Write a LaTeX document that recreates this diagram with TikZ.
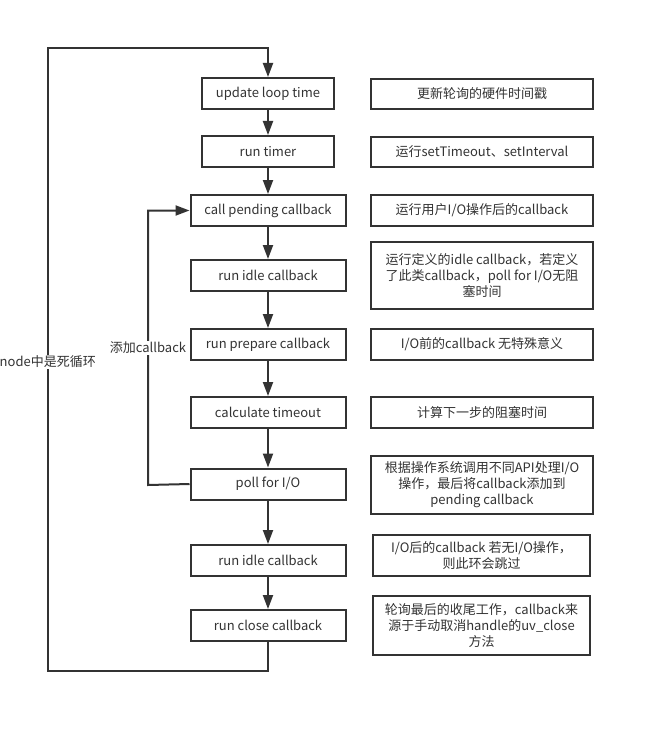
\documentclass[tikz,border=0pt]{standalone}
\usepackage{fontspec}
\setmainfont{Noto Sans CJK SC}
\usetikzlibrary{arrows.meta}
\definecolor{ink}{HTML}{333333}
\begin{document}
\begin{tikzpicture}[x=1pt,y=-1pt,
  lw/.style={line width=2pt, draw=ink},
  stepbox/.style={lw, rectangle, inner sep=0pt, text=ink, font=\fontsize{13}{16}\selectfont, align=center},
  lbox/.style={stepbox, minimum height=31pt},
  rbox/.style={stepbox, minimum width=222pt},
  flow/.style={lw, -{Triangle[length=14pt,width=10pt]}},
  lbl/.style={text=ink, fill=white, inner sep=1pt, font=\fontsize{13}{16}\selectfont}]
\useasboundingbox[fill=white] (0,0) rectangle (655,733);
% left column
\node[lbox, minimum width=132pt] (u1) at (268,93.5) {update loop time};
\node[lbox, minimum width=132pt] (u2) at (268,151.5) {run timer};
\node[lbox, minimum width=155pt] (u3) at (268,210.5) {call pending callback};
\node[lbox, minimum width=155pt] (u4) at (268,275.5) {run idle callback};
\node[lbox, minimum width=155pt] (u5) at (268,344.5) {run prepare callback};
\node[lbox, minimum width=155pt] (u6) at (268,412.5) {calculate timeout};
\node[lbox, minimum width=155pt] (u7) at (268,484) {poll for I/O};
\node[lbox, minimum width=155pt] (u8) at (268,560.5) {run idle callback};
\node[lbox, minimum width=155pt] (u9) at (268,625.5) {run close callback};
% right column
\node[rbox, minimum height=30pt] (r1) at (482,94) {更新轮询的硬件时间戳};
\node[rbox, minimum height=30pt] (r2) at (482,152) {运行setTimeout、setInterval};
\node[rbox, minimum height=31pt] (r3) at (482,210.5) {运行用户I/O操作后的callback};
\node[rbox, minimum height=67pt] (r4) at (482,275.5) {运行定义的idle callback，若定义\\了此类callback，poll for I/O无阻\\塞时间};
\node[rbox, minimum height=31pt] (r5) at (482,344.5) {I/O前的callback 无特殊意义};
\node[rbox, minimum height=31pt] (r6) at (482,412.5) {计算下一步的阻塞时间};
\node[rbox, minimum height=58pt] (r7) at (482,485) {根据操作系统调用不同API处理I/O\\操作，最后将callback添加到\\pending callback};
\node[rbox, minimum width=217pt, minimum height=41pt] (r8) at (481.5,555.5) {I/O后的callback 若无I/O操作，\\则此环会跳过};
\node[rbox, minimum width=217pt, minimum height=59pt] (r9) at (481.5,625.5) {轮询最后的收尾工作，callback来\\源于手动取消handle的uv\_close\\方法};
% flow arrows
\draw[flow] (u1) -- (u2);
\draw[flow] (u2) -- (u3);
\draw[flow] (u3) -- (u4);
\draw[flow] (u4) -- (u5);
\draw[flow] (u5) -- (u6);
\draw[flow] (u6) -- (u7);
\draw[flow] (u7) -- (u8);
\draw[flow] (u8) -- (u9);
% main loop
\coordinate (lb) at (48,671);
\coordinate (lt) at (48,48);
\draw[flow] (u9.south) |- (lb) -- (lt) -| (u1.north);
\node[lbl, anchor=east] (loopl) at (97,362) {node中是死循环};
% add callback loop
\coordinate (ab) at (148,485);
\coordinate (at) at (148,210.5);
\draw[flow] (u7.west) -- (ab) -- (at) -- (u3.west);
\node[lbl] (addl) at (148,348) {添加callback};
\end{tikzpicture}
\end{document}
